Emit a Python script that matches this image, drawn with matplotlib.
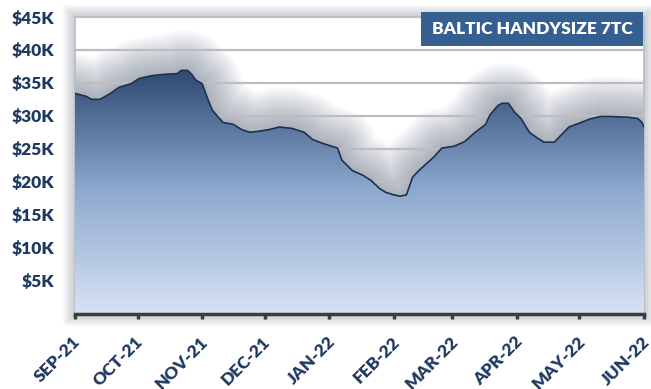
import numpy as np
import matplotlib
matplotlib.use('Agg')
import matplotlib.pyplot as plt
import matplotlib.dates as mdates
from matplotlib.colors import LinearSegmentedColormap
from matplotlib.patches import Rectangle
from matplotlib.transforms import ScaledTranslation

# Baltic Handysize 7TC, USD/day
dates = np.array([
    '2021-09-01', '2021-09-06', '2021-09-09', '2021-09-13', '2021-09-18',
    '2021-09-22', '2021-09-28', '2021-10-02', '2021-10-08', '2021-10-14',
    '2021-10-20', '2021-10-22', '2021-10-25', '2021-10-27', '2021-10-29',
    '2021-11-01', '2021-11-04', '2021-11-06', '2021-11-11', '2021-11-16',
    '2021-11-20', '2021-11-24', '2021-11-29', '2021-12-03', '2021-12-08',
    '2021-12-14', '2021-12-20', '2021-12-24', '2021-12-29', '2022-01-05',
    '2022-01-07', '2022-01-12', '2022-01-17', '2022-01-21', '2022-01-25',
    '2022-01-28', '2022-02-01', '2022-02-04', '2022-02-07', '2022-02-10',
    '2022-02-13', '2022-02-20', '2022-02-24', '2022-03-02', '2022-03-07',
    '2022-03-12', '2022-03-17', '2022-03-19', '2022-03-23', '2022-03-25',
    '2022-03-28', '2022-03-31', '2022-04-03', '2022-04-07', '2022-04-11',
    '2022-04-14', '2022-04-19', '2022-04-22', '2022-04-26', '2022-05-01',
    '2022-05-06', '2022-05-11', '2022-05-16', '2022-05-24', '2022-05-29',
    '2022-05-31', '2022-06-01'], dtype='datetime64[D]')
rates = np.array([
    33400, 33000, 32500, 32500, 33400,
    34300, 34900, 35700, 36100, 36300,
    36400, 36900, 36900, 36300, 35400,
    34900, 32300, 30800, 29000, 28700,
    27900, 27500, 27700, 27900, 28300,
    28100, 27500, 26400, 25800, 25100,
    23300, 21700, 21000, 20200, 19000,
    18400, 18000, 17800, 18000, 20700,
    21700, 23700, 25100, 25400, 26100,
    27500, 28700, 30100, 31600, 31900,
    31900, 30500, 29600, 27500, 26600,
    26000, 26000, 27000, 28300, 28900,
    29500, 29900, 29900, 29800, 29600,
    29000, 28300])

month_starts = np.array(['2021-09-01', '2021-10-01', '2021-11-01', '2021-12-01',
                         '2022-01-01', '2022-02-01', '2022-03-01', '2022-04-01',
                         '2022-05-01', '2022-06-01'], dtype='datetime64[D]')
month_labels = ['SEP-21', 'OCT-21', 'NOV-21', 'DEC-21', 'JAN-22',
                'FEB-22', 'MAR-22', 'APR-22', 'MAY-22', 'JUN-22']
y_ticks = [5000, 10000, 15000, 20000, 25000, 30000, 35000, 40000, 45000]
y_labels = ['$5K', '$10K', '$15K', '$20K', '$25K', '$30K', '$35K', '$40K', '$45K']
title = 'BALTIC HANDYSIZE 7TC'

navy = '#1f3a60'
weight = 'heavy'
plt.rcParams['font.family'] = ['Lato', 'DejaVu Sans']

x = mdates.date2num(dates)
x0, x1 = x[0], x[-1]
ymax = 45000

# plot box in figure pixels
W, H = 651, 389
L, R, T, B = 75, 644, 17, 313.5

fig = plt.figure(figsize=(W / 100, H / 100), dpi=100)
fig.patch.set_facecolor('white')

# soft glow around the plot box: stacked translucent rectangles
for r in range(1, 13):
    fig.add_artist(Rectangle(((L - r) / W, 1 - (B + r) / H), (R - L + 2 * r) / W,
                             (B - T + 2 * r) / H, transform=fig.transFigure,
                             facecolor='#7a8090', edgecolor='none', alpha=0.035,
                             zorder=0))

ax = fig.add_axes([L / W, 1 - B / H, (R - L) / W, (B - T) / H], zorder=1)
ax.set_facecolor('white')

# blurred shadow of the area: stacked translucent fills of the dilated outline
npx = int(R - L) + 1
cols = np.arange(npx)
xd = x0 + cols / (R - L) * (x1 - x0)
top_px = np.interp(xd, x, rates) / ymax * (B - T)   # height in pixels
for r in range(2, 42, 2):
    dc = np.arange(-r, r + 1)
    padded = np.pad(top_px, r, mode='edge')
    env = np.max([padded[r + d:r + d + npx] + np.sqrt(r * r - d * d) for d in dc], axis=0)
    ax.fill_between(xd, 0, env / (B - T) * ymax, facecolor='#5f6b80',
                    edgecolor='none', alpha=0.032, zorder=1)

ax.set_yticks(y_ticks)
ax.set_yticklabels(y_labels)
ax.grid(axis='y', color='#bdbdbd', linewidth=1.6)
ax.set_axisbelow(False)

# gradient area
cmap = LinearSegmentedColormap.from_list('area', ['#d6e2f2', '#8ea9cf', '#2a4670'])
poly = ax.fill_between(x, 0, rates, facecolor='none', edgecolor='none', zorder=3)
grad = np.linspace(0, 1, 256).reshape(-1, 1)
im = ax.imshow(grad, extent=[x0, x1, 0, 37500], aspect='auto', origin='lower',
               cmap=cmap, zorder=3)
im.set_clip_path(poly.get_paths()[0], transform=ax.transData)
ax.plot(x, rates, color='#1c3150', linewidth=1.2, zorder=4)
ax.set_xlim(x0, x1)
ax.set_ylim(0, ymax)

ax.set_xticks(mdates.date2num(month_starts))
ax.set_xticklabels(month_labels, rotation=45, ha='right', va='center',
                   rotation_mode='anchor')
ax.tick_params(axis='x', length=3.5, width=2.5, color='#3c3c3c', pad=15,
               labelsize=12.5, labelcolor=navy)
ax.tick_params(axis='y', length=0, pad=15, labelsize=12.5, labelcolor=navy)
shift = ScaledTranslation(3 / 100, 0, fig.dpi_scale_trans)
for lab in ax.get_xticklabels():
    lab.set_fontweight(weight)
    lab.set_transform(lab.get_transform() + shift)
for lab in ax.get_yticklabels():
    lab.set_fontweight(weight)

ax.spines['bottom'].set_color('#3c3c3c')
ax.spines['bottom'].set_linewidth(2.5)
ax.spines['bottom'].set_zorder(5)
for s in ['left', 'right', 'top']:
    ax.spines[s].set_color('#b8bcc4')
    ax.spines[s].set_linewidth(1.2)

# title box
fig.add_artist(Rectangle((421 / W, 1 - 45.5 / H), 222 / W, 33.5 / H,
                         transform=fig.transFigure, facecolor='#355f91',
                         edgecolor='none', zorder=10))
fig.text(532 / W, 1 - 29 / H, title, color='white', fontsize=12.5,
         fontweight=weight, ha='center', va='center', zorder=11)

fig.savefig('out.png', dpi=100)
